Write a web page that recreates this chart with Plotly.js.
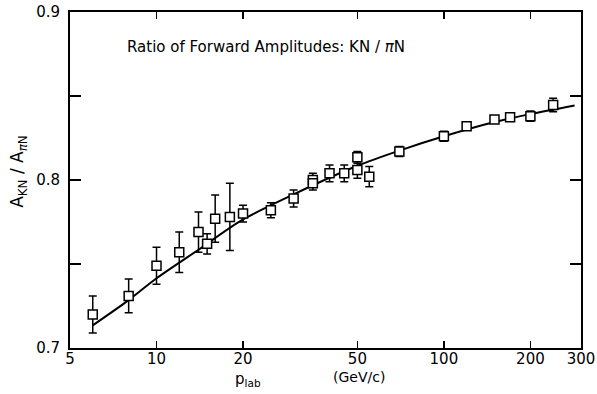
<!DOCTYPE html>
<html><head><meta charset="utf-8">
<script src="https://cdn.plot.ly/plotly-3.0.1.min.js"></script>
<style>html,body{margin:0;padding:0;background:#fff}#c{width:597px;height:394px}</style>
</head><body><div id="c"></div>
<script>
// measured data points
const pLab   = [6, 8, 10, 12, 14, 15, 16, 18, 20, 25, 30, 35, 35, 40, 45, 50, 50, 55, 70, 100, 120, 150, 170, 200, 240];
const ratio  = [0.720, 0.731, 0.749, 0.757, 0.769, 0.762, 0.777, 0.778, 0.780, 0.782, 0.789, 0.800, 0.798, 0.804, 0.804, 0.806, 0.8135, 0.802, 0.817, 0.826, 0.832, 0.836, 0.8373, 0.838, 0.8446];
const errs   = [0.011, 0.010, 0.011, 0.012, 0.012, 0.006, 0.014, 0.020, 0.005, 0.0045, 0.005, 0.004, 0.004, 0.005, 0.005, 0.005, 0.0035, 0.006, 0.003, 0.003, 0.002, 0.002, 0.002, 0.003, 0.004];
// fitted curve
const fitP   = [6, 8, 10, 14, 20, 30, 50, 70, 100, 150, 200, 285];
const fitV   = [0.7135, 0.7285, 0.7415, 0.7585, 0.7765, 0.7915, 0.8085, 0.8175, 0.826, 0.8345, 0.8392, 0.8443];
const xTicks = [5, 10, 20, 50, 100, 200, 300];
const xTickText = ['5', '10', '20', '50', '100', '200', '300'];
const yTicks = [0.7, 0.75, 0.8, 0.85, 0.9];
const yTickText = ['0.7', '', '0.8', '', '0.9'];

const F = 'DejaVu Sans, Liberation Sans, sans-serif';
const traces = [
  {x: fitP, y: fitV, mode: 'lines', type: 'scatter', line: {color: '#000', width: 2, shape: 'spline', smoothing: 0.8}, hoverinfo: 'skip'},
  {x: pLab, y: ratio, mode: 'markers', type: 'scatter',
   marker: {symbol: 'square', size: 9, color: '#fff', line: {color: '#000', width: 1.5}},
   error_y: {type: 'data', array: errs, visible: true, color: '#000', thickness: 1.5, width: 4}}
];
const layout = {
  width: 597, height: 394, showlegend: false,
  paper_bgcolor: '#fff', plot_bgcolor: '#fff',
  margin: {l: 70, r: 16, t: 12, b: 46},
  font: {family: F, size: 14, color: '#000'},
  xaxis: {type: 'log', range: [Math.log10(5), Math.log10(300)], tickvals: xTicks, ticktext: xTickText,
          ticks: 'inside', ticklen: 7, tickwidth: 1.5, tickcolor: '#000', mirror: 'ticks',
          showline: true, linecolor: '#000', linewidth: 2, showgrid: false, zeroline: false,
          ticklabelstandoff: -4, tickfont: {family: F, size: 15}},
  yaxis: {range: [0.7, 0.9], tickvals: yTicks, ticktext: yTickText,
          ticks: 'inside', ticklen: 11, tickwidth: 1.5, tickcolor: '#000', mirror: 'ticks',
          showline: true, linecolor: '#000', linewidth: 2, showgrid: false, zeroline: false,
          ticklabelstandoff: 5, tickfont: {family: F, size: 15}},
  annotations: [
    {xref: 'paper', yref: 'paper', x: 0.384, y: 0.93, text: 'Ratio of Forward Amplitudes: KN / <i>π</i>N', showarrow: false, font: {family: F, size: 15}},
    {xref: 'paper', yref: 'paper', x: -0.1, xanchor: 'center', yanchor: 'middle', y: 0.527, textangle: -90, text: 'A<sub>KN</sub> / A<sub><i>π</i>N</sub>', showarrow: false, font: {family: F, size: 17}},
    {xref: 'paper', yref: 'paper', x: 0.348, xanchor: 'center', y: -0.094, yanchor: 'middle', text: 'p<sub>lab</sub>', showarrow: false, font: {family: F, size: 15}},
    {xref: 'paper', yref: 'paper', x: 0.565, xanchor: 'center', y: -0.086, yanchor: 'middle', text: '(GeV/c)', showarrow: false, font: {family: F, size: 14}}
  ]
};
Plotly.newPlot('c', traces, layout, {displayModeBar: false, staticPlot: true});
</script></body></html>
